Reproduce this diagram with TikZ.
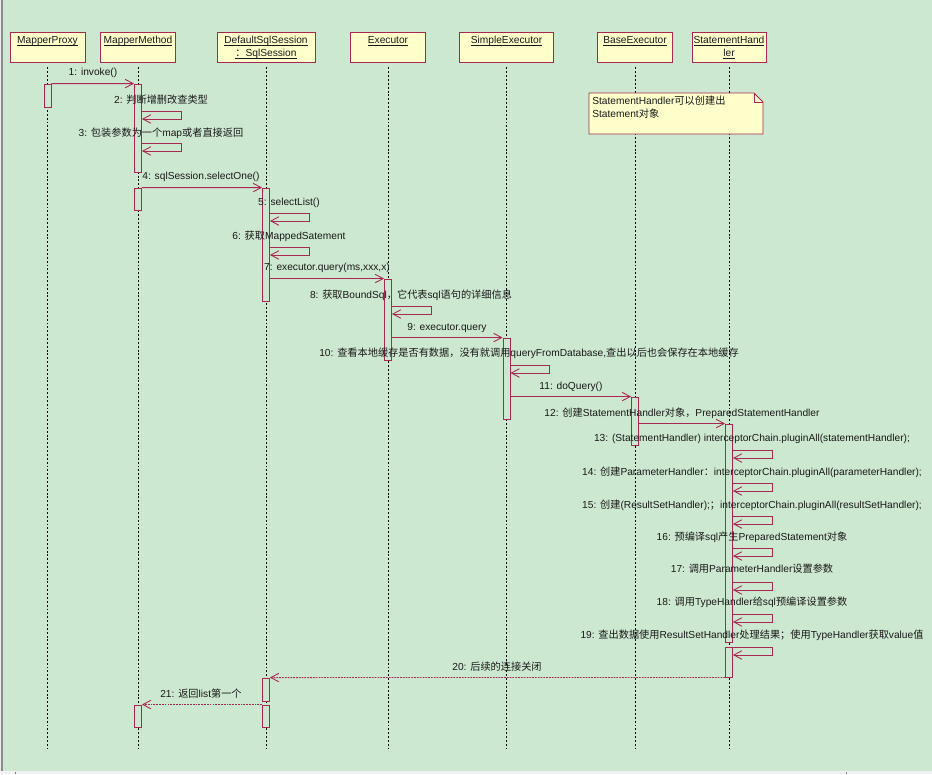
\documentclass[tikz,border=0pt]{standalone}
\usepackage{fontspec}
\setmainfont{Liberation Sans}
\newfontfamily\cjkfont{Noto Sans CJK SC}
\newcommand{\zh}[1]{{\cjkfont #1}}
\newcommand{\hul}[1]{\setbox0\hbox{#1}\rlap{\rule[-1.1pt]{\wd0}{0.45pt}}\box0}
\usetikzlibrary{arrows.meta,fit}
\definecolor{seqbg}{RGB}{205,232,208}
\definecolor{seqline}{RGB}{168,40,82}
\definecolor{seqfill}{RGB}{255,255,204}
\definecolor{seqtext}{RGB}{25,25,25}
\newcommand{\selfcall}[2]{\draw[msg] (#1.east |- 0,#2) -- ++(39,0) -- ++(0,8) -- ++(-39,0);}

\begin{document}
\begin{tikzpicture}[x=0.02cm,y=-0.02cm,font=\fontsize{5.8}{7.4}\selectfont,
  header/.style={draw=seqline,fill=seqfill,line width=0.55pt,minimum height=0.6cm,inner sep=0pt},
  headtext/.style={anchor=north,inner sep=0pt,yshift=-2.6pt,align=center,text=seqtext},
  lifeline/.style={draw=black,line width=0.5pt,dash pattern=on 1.1pt off 1.1pt,shorten <=2.8pt},
  act/.style={draw=seqline,fill=seqbg,line width=0.5pt,inner sep=0pt},
  msg/.style={draw=seqline,line width=0.5pt,-{Straight Barb[length=1.6mm,width=1.7mm]}},
  reply/.style={msg,dash pattern=on 1pt off 0.6pt},
  msgtext/.style={inner sep=0pt,text=seqtext}]
\useasboundingbox (0,0) rectangle (932,774);
\fill[seqbg] (3,0) rectangle (932,771);
\fill[black!8] (0,0) rectangle (3,771);
\draw[black!45,line width=0.8pt] (2,0) -- (2,771);
\fill[black!5] (0,771) rectangle (932,774);
\draw[black!50,line width=0.5pt] (15,771.5) -- (15,774) (846,771.5) -- (846,774);

% participants
\node[header,minimum width=1.5cm,label={[headtext]north:\hul{MapperProxy}}] (mp) at (47.5,47) {};
\node[header,minimum width=1.5cm,label={[headtext]north:\hul{MapperMethod}}] (mm) at (138,47) {};
\node[header,minimum width=1.96cm,label={[headtext]north:\hul{DefaultSqlSession}\\\hul{\zh{：}SqlSession}}] (dss) at (266,47) {};
\node[header,minimum width=1.5cm,label={[headtext]north:\hul{Executor}}] (ex) at (388,47) {};
\node[header,minimum width=1.88cm,label={[headtext]north:\hul{SimpleExecutor}}] (se) at (506.5,47) {};
\node[header,minimum width=1.5cm,label={[headtext]north:\hul{BaseExecutor}}] (be) at (635,47) {};
\node[header,minimum width=1.48cm,label={[headtext]north:\hul{StatementHand}\\\hul{ler}}] (sh) at (729,47) {};

\foreach \p in {mp,mm,dss,ex,se,be,sh}
  \draw[lifeline] (\p.south) -- (\p.south |- 0,748);

% activations
\node[act,fit={(44,84) (51,107)}] (mp-act) {};
\node[act,fit={(134.5,84) (141.5,172)}] (mm-act-a) {};
\node[act,fit={(134.5,188) (141.5,210)}] (mm-act-b) {};
\node[act,fit={(134.5,705) (141.5,727)}] (mm-act-c) {};
\node[act,fit={(262.5,188) (269.5,301)}] (dss-act-a) {};
\node[act,fit={(262.5,678) (269.5,701)}] (dss-act-b) {};
\node[act,fit={(262.5,705) (269.5,727)}] (dss-act-c) {};
\node[act,fit={(384.5,279) (391.5,360)}] (ex-act) {};
\node[act,fit={(503,338) (510,419)}] (se-act) {};
\node[act,fit={(631.5,397) (638.5,445)}] (be-act) {};
\node[act,fit={(725.5,424) (732.5,642)}] (sh-act-a) {};
\node[act,fit={(725.5,647) (732.5,677)}] (sh-act-b) {};

% note
\path[fill=seqfill,draw=seqline,line width=0.55pt] (589,93) -- (754,93) -- (763,102) -- (763,134) -- (589,134) -- cycle;
\draw[seqline,line width=0.55pt] (754,93) -- (754,102) -- (763,102);
\node[anchor=north west,align=left,inner sep=0pt,text=seqtext] (note) at (592,96) {StatementHandler\zh{可以创建出}\\Statement\zh{对象}};

% messages
\draw[msg] (mp-act.north east) -- (mm-act-a.north west);
\selfcall{mm-act-a}{111}
\selfcall{mm-act-a}{143}
\draw[msg] (mm-act-b.north east) -- (dss-act-a.north west);
\selfcall{dss-act-a}{213}
\selfcall{dss-act-a}{247}
\draw[msg] (dss-act-a.east |- ex-act.north) -- (ex-act.north west);
\selfcall{ex-act}{306}
\draw[msg] (ex-act.east |- se-act.north) -- (se-act.north west);
\selfcall{se-act}{365}
\draw[msg] (se-act.east |- be-act.north) -- (be-act.north west);
\draw[msg] (be-act.east |- sh-act-a.north) -- (sh-act-a.north west);
\selfcall{sh-act-a}{450}
\selfcall{sh-act-a}{483}
\selfcall{sh-act-a}{516}
\selfcall{sh-act-a}{548}
\selfcall{sh-act-a}{582}
\selfcall{sh-act-a}{614}
\selfcall{sh-act-b}{647}
\draw[reply] (sh-act-b.south west) -- (dss-act-b.north east);
\draw[reply] (dss-act-c.north west) -- (mm-act-c.north east);

% message labels
\node[msgtext] (msg-label-1) at (93,73) {1: invoke()};
\node[msgtext] (msg-label-2) at (161,100) {2: \zh{判断增删改查类型}};
\node[msgtext] (msg-label-3) at (161,133) {3: \zh{包装参数为一个}map\zh{或者直接返回}};
\node[msgtext] (msg-label-4) at (201,177) {4: sqlSession.selectOne()};
\node[msgtext] (msg-label-5) at (289,203) {5: selectList()};
\node[msgtext] (msg-label-6) at (289,236) {6: \zh{获取}MappedSatement};
\node[msgtext] (msg-label-7) at (327,268) {7: executor.query(ms,xxx,x)};
\node[msgtext] (msg-label-8) at (411,295) {8: \zh{获取}BoundSql\zh{，它代表}sql\zh{语句的详细信息}};
\node[msgtext] (msg-label-9) at (447,328) {9: executor.query};
\node[msgtext] (msg-label-10) at (529,353) {10: \zh{查看本地缓存是否有数据，没有就调用}queryFromDatabase,\zh{查出以后也会保存在本地缓存}};
\node[msgtext] (msg-label-11) at (571,387) {11: doQuery()};
\node[msgtext] (msg-label-12) at (682,413) {12: \zh{创建}StatementHandler\zh{对象，}PreparedStatementHandler};
\node[msgtext] (msg-label-13) at (752,439) {13: (StatementHandler) interceptorChain.pluginAll(statementHandler);};
\node[msgtext] (msg-label-14) at (752,472) {14: \zh{创建}ParameterHandler\zh{：}interceptorChain.pluginAll(parameterHandler);};
\node[msgtext] (msg-label-15) at (752,505) {15: \zh{创建}(ResultSetHandler);\zh{；}interceptorChain.pluginAll(resultSetHandler);};
\node[msgtext] (msg-label-16) at (752,537) {16: \zh{预编译}sql\zh{产生}PreparedStatement\zh{对象}};
\node[msgtext] (msg-label-17) at (752,569) {17: \zh{调用}ParameterHandler\zh{设置参数}};
\node[msgtext] (msg-label-18) at (752,602) {18: \zh{调用}TypeHandler\zh{给}sql\zh{预编译设置参数}};
\node[msgtext] (msg-label-19) at (752,635) {19: \zh{查出数据使用}ResultSetHandler\zh{处理结果；使用}TypeHandler\zh{获取}value\zh{值}};
\node[msgtext] (msg-label-20) at (497,667) {20: \zh{后续的连接关闭}};
\node[msgtext] (msg-label-21) at (201,694) {21: \zh{返回}list\zh{第一个}};
\end{tikzpicture}
\end{document}
